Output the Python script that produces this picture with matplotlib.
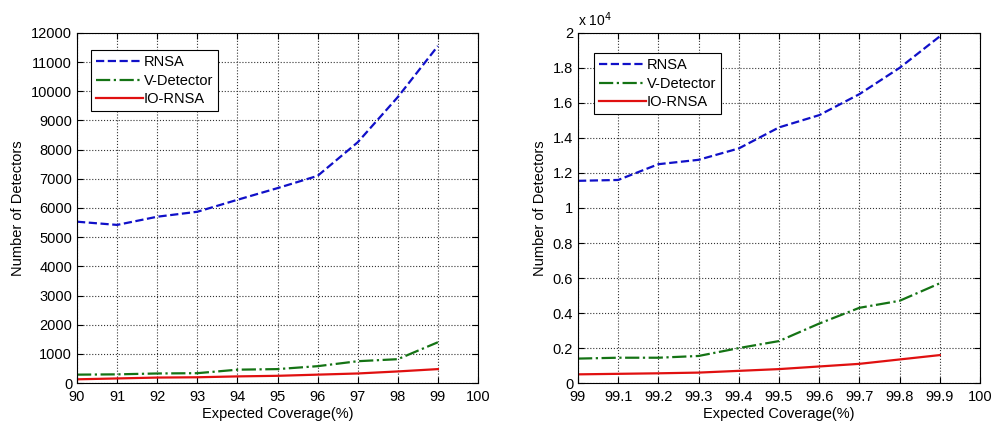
import numpy as np
import matplotlib
matplotlib.use("Agg")
import matplotlib.pyplot as plt
from matplotlib.ticker import FuncFormatter, MultipleLocator

#------------------------------------------- DATA ---------------------------------------------#

cov_low = [90, 91, 92, 93, 94, 95, 96, 97, 98, 99]
rnsa_low = [5530, 5420, 5700, 5870, 6280, 6680, 7100, 8250, 9800, 11550]
vdet_low = [290, 300, 330, 340, 460, 480, 580, 750, 820, 1400]
io_low = [130, 160, 190, 200, 230, 250, 290, 330, 400, 480]

cov_high = [99.0, 99.1, 99.2, 99.3, 99.4, 99.5, 99.6, 99.7, 99.8, 99.9]
rnsa_high = [11550, 11600, 12500, 12750, 13400, 14600, 15300, 16500, 18000, 19800]
vdet_high = [1400, 1450, 1450, 1550, 2000, 2400, 3400, 4300, 4700, 5700]
io_high = [500, 530, 560, 600, 700, 800, 950, 1100, 1350, 1600]

labels = ["RNSA", "V-Detector", "IO-RNSA"]

#------------------------------------------- PLOTS --------------------------------------------#

plt.rcParams["font.family"] = ["Liberation Sans", "DejaVu Sans"]
plt.rcParams["font.size"] = 10

fig = plt.figure(figsize=(10, 4.21), dpi=100)
ax1 = fig.add_axes([0.077, 0.09, 0.401, 0.832])
ax2 = fig.add_axes([0.578, 0.09, 0.402, 0.832])


def draw(ax, x, rnsa, vdet, io, anchor):
    ax.plot(x, rnsa, "--", color="#1010c8", lw=1.6, label=labels[0])
    ax.plot(x, vdet, "-.", color="#147314", lw=1.6, label=labels[1])
    ax.plot(x, io, "-", color="#e01010", lw=1.6, label=labels[2])
    ax.grid(True, ls=":", color="#333333", lw=0.8)
    ax.tick_params(direction="in", top=True, right=True, length=4, labelsize=10.5)
    ax.tick_params(axis="x", pad=5)
    ax.set_xlabel("Expected Coverage(%)", labelpad=2, fontsize=10.5)
    ax.set_ylabel("Number of Detectors", fontsize=10.5)
    leg = ax.legend(loc="upper left", bbox_to_anchor=anchor, borderaxespad=0,
                    fancybox=False, edgecolor="black", framealpha=1, fontsize=10.5,
                    handlelength=3.2, handletextpad=0.05, borderpad=0.35,
                    labelspacing=0.3)
    leg.get_frame().set_linewidth(0.8)


draw(ax1, cov_low, rnsa_low, vdet_low, io_low, (0.035, 0.95))
ax1.set_xlim(90, 100)
ax1.set_ylim(0, 12000)
ax1.xaxis.set_major_locator(MultipleLocator(1))
ax1.yaxis.set_major_locator(MultipleLocator(1000))

draw(ax2, cov_high, rnsa_high, vdet_high, io_high, (0.04, 0.942))
ax2.set_xlim(99, 100)
ax2.set_ylim(0, 20000)
ax2.set_xticks(np.round(np.arange(99, 100.01, 0.1), 1))
ax2.xaxis.set_major_formatter(FuncFormatter(lambda v, p: f"{v:g}"))
ax2.yaxis.set_major_locator(MultipleLocator(2000))
ax2.yaxis.set_major_formatter(FuncFormatter(lambda v, p: f"{v / 1e4:g}"))
ax2.text(0.0, 1.01, r"x 10$^4$", transform=ax2.transAxes, fontsize=10, va="bottom")

fig.savefig("out.png", dpi=100)
